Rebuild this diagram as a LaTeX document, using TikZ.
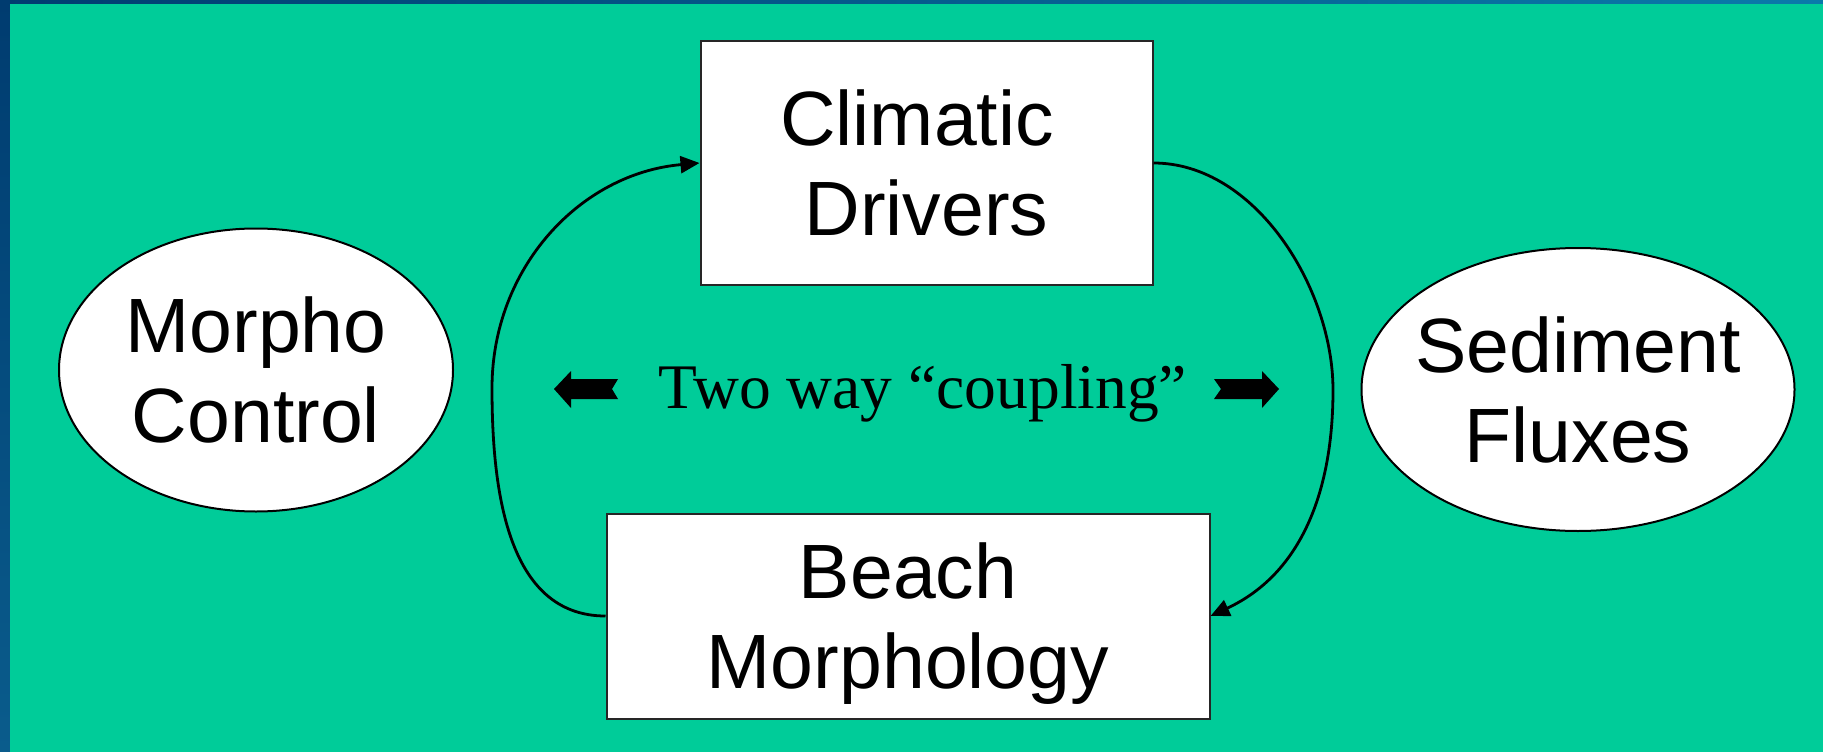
\documentclass[tikz,border=0pt]{standalone}
\usepackage{fontspec}
\setmainfont{Liberation Sans}
\newfontfamily\serifface{Liberation Serif}
\usetikzlibrary{arrows.meta,shapes.geometric}
\definecolor{bg}{RGB}{0,204,153}
\definecolor{navyA}{RGB}{0,60,112}
\definecolor{navyB}{RGB}{10,92,140}
\definecolor{navyC}{RGB}{10,122,170}
\begin{document}
\begin{tikzpicture}[x=1pt,y=1pt,
  box/.style={draw=black!85, line width=2pt, fill=white, rectangle, align=center,
    font=\fontsize{77}{90}\selectfont, text depth=0pt, inner sep=0pt},
  oval/.style={draw=black, line width=2pt, fill=white, ellipse, align=center,
    font=\fontsize{77}{90}\selectfont, text depth=0pt, inner ysep=0pt, inner xsep=-40pt},
  link/.style={line width=2.8pt, -{Triangle[length=19pt,width=17pt]}},
  blockarrow/.style={fill=black}]
\useasboundingbox (0,0) rectangle (1823,-752);
\shade[top color=navyA,bottom color=navyB] (0,0) rectangle (10,-752);
\shade[left color=navyA,right color=navyC] (0,0) rectangle (1823,-4);
\fill[bg] (10,-4) rectangle (1823,-752);

\node[box, minimum width=452pt, minimum height=243pt] (C) at (926.5,-163) {Climatic\kern19pt\\Drivers};
\node[box, minimum width=603pt, minimum height=205pt] (B) at (908,-616) {Beach\\Morphology};
\node[oval, minimum width=394pt, minimum height=283pt] (M) at (256,-370) {Morpho\\Control};
\node[oval, minimum width=433pt, minimum height=283pt] (S) at (1578,-389.5) {Sediment\\Fluxes};

\node[font=\serifface\fontsize{63.5}{70}\selectfont, anchor=base, inner sep=0pt] (T) at (923,-408) {Two way “coupling”};

\coordinate (lm) at (492,-388);
\coordinate (rm) at (1333,-390);
\draw[link] (B.west) to[out=180,in=-90] (lm) to[out=90,in=185] (C.west);
\draw[link] (C.east) to[out=0,in=90,looseness=0.9] (rm) to[out=-90,in=25] (B.east);

\fill[blockarrow] (554,-389) -- (571,-371) -- (571,-379) -- (618,-379) -- (612,-389)
  -- (618,-399) -- (571,-399) -- (571,-408) -- cycle;
\fill[blockarrow] (1214,-379) -- (1262,-379) -- (1262,-371) -- (1279,-389) -- (1262,-408)
  -- (1262,-399) -- (1214,-399) -- (1221,-389) -- cycle;
\end{tikzpicture}
\end{document}
